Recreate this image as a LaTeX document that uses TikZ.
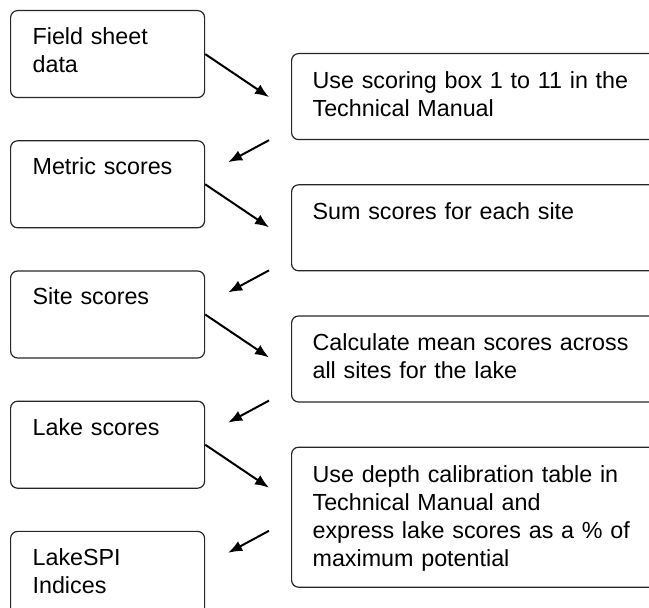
\documentclass[tikz,border=0pt]{standalone}
\usepackage{fontspec}
\setmainfont{Liberation Sans}
\usepackage{tikz}
\usetikzlibrary{arrows.meta, positioning, calc}

\begin{document}
\begin{tikzpicture}[
        x=0.5pt, y=-0.5pt,
        font=\fontsize{11.65}{14}\selectfont,
        result/.style={rectangle, draw=black!85, line width=0.6pt, rounded corners=3.5pt, align=left, text width=75pt, inner xsep=11pt, inner ysep=0pt, text height=17pt, text depth=26.5pt},
        task/.style={result, text width=166pt, inner xsep=10.5pt, text height=17.5pt, text depth=25.5pt},
        line/.style={draw, -{Latex[length=7pt, width=5.5pt]}, line width=1pt}
    ]
    \useasboundingbox (0,0) rectangle (649,608);

    % left column: results
    \node [result, anchor=north west] (field) at (10,10) {Field sheet\\data};
    \node [result, below=21pt of field] (metric) {Metric scores};
    \node [result, below=21pt of metric] (site) {Site scores};
    \node [result, below=21pt of site] (lake) {Lake scores};
    \node [result, below=21pt of lake] (spi) {LakeSPI\\Indices};

    % right column: steps
    \node [task, anchor=north west] (use) at (291,53) {Use scoring box 1 to 11 in the\\Technical Manual};
    \node [task, below=22pt of use] (sum) {Sum scores for each site};
    \node [task, below=22pt of sum] (mean) {Calculate mean scores across\\all sites for the lake};
    \node [task, below=22pt of mean, text depth=52.5pt] (depth) {Use depth calibration table in\\Technical Manual and\\express lake scores as a \% of\\maximum potential};

    \path [line] (field.east) -- ($(field.east -| use.west)+(-11pt,-21.5pt)$);
    \path [line] ($(use.west |- metric.north)+(-11pt,0)$) -- ($(metric.north east)+(11.5pt,-11pt)$);
    \path [line] (metric.east) -- ($(metric.east -| sum.west)+(-11pt,-21.5pt)$);
    \path [line] ($(sum.west |- site.north)+(-11pt,0)$) -- ($(site.north east)+(11.5pt,-11pt)$);
    \path [line] (site.east) -- ($(site.east -| mean.west)+(-11pt,-21.5pt)$);
    \path [line] ($(mean.west |- lake.north)+(-11pt,0)$) -- ($(lake.north east)+(11.5pt,-11pt)$);
    \path [line] (lake.east) -- ($(lake.east -| depth.west)+(-11pt,-21.5pt)$);
    \path [line] ($(depth.west |- spi.north)+(-11pt,0)$) -- ($(spi.north east)+(11.5pt,-11pt)$);

\end{tikzpicture}
\end{document}
